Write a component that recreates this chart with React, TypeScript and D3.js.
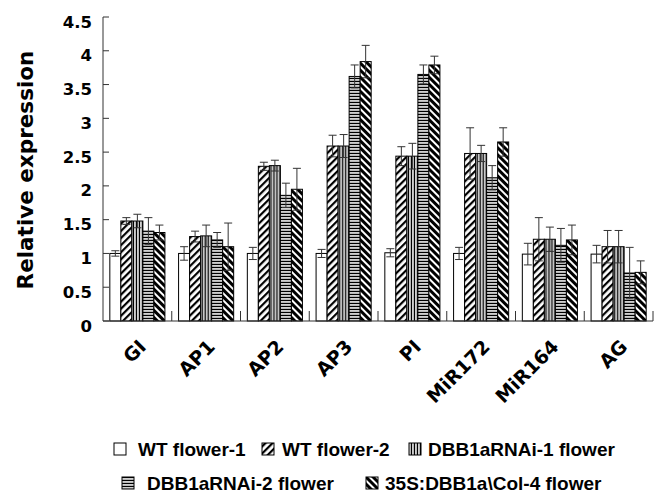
import React from "react";
import * as d3 from "d3";

// genes on the x axis
const genes = ["GI", "AP1", "AP2", "AP3", "PI", "MiR172", "MiR164", "AG"];
const seriesNames = [
  "WT flower-1",
  "WT flower-2",
  "DBB1aRNAi-1 flower",
  "DBB1aRNAi-2 flower",
  "35S:DBB1a\\Col-4 flower",
];
// mean values per series (one value per gene)
const wt1 = [1.0, 1.0, 1.0, 1.0, 1.01, 1.0, 0.99, 0.99];
const wt2 = [1.48, 1.25, 2.29, 2.59, 2.44, 2.48, 1.21, 1.1];
const rnai1 = [1.48, 1.26, 2.3, 2.59, 2.44, 2.48, 1.21, 1.1];
const rnai2 = [1.33, 1.2, 1.86, 3.62, 3.65, 2.12, 1.12, 0.71];
const oe35s = [1.31, 1.1, 1.95, 3.84, 3.79, 2.65, 1.2, 0.72];
// error bar sizes
const wt1Err = [0.04, 0.1, 0.09, 0.06, 0.06, 0.09, 0.16, 0.13];
const wt2Err = [0.05, 0.08, 0.06, 0.16, 0.14, 0.38, 0.32, 0.24];
const rnai1Err = [0.1, 0.16, 0.08, 0.17, 0.19, 0.12, 0.18, 0.24];
const rnai2Err = [0.2, 0.11, 0.18, 0.17, 0.14, 0.18, 0.25, 0.38];
const oe35sErr = [0.11, 0.35, 0.31, 0.24, 0.13, 0.21, 0.22, 0.17];
const yTicks = [0, 0.5, 1, 1.5, 2, 2.5, 3, 3.5, 4, 4.5];

const values = [wt1, wt2, rnai1, rnai2, oe35s];
const errors = [wt1Err, wt2Err, rnai1Err, rnai2Err, oe35sErr];
const fills = ["#fff", "url(#pFwd)", "url(#pVert)", "url(#pHoriz)", "url(#pBack)"];

const HEAVY = "'DejaVu Sans', sans-serif";
const ARIAL = "Arial, 'Liberation Sans', sans-serif";

export default function App() {
  const left = 103, right = 653, top = 17, bottom = 321;

  const x0 = d3.scaleBand().domain(genes).range([left, right]).paddingInner(0).paddingOuter(0);
  const x1 = d3.scaleBand<number>()
    .domain(d3.range(seriesNames.length))
    .range([0, x0.bandwidth()])
    .paddingInner(0)
    .paddingOuter(0.62);
  const y = d3.scaleLinear().domain([0, 4.5]).range([bottom, top]);

  // legend placement: [row, swatch x, text x]
  const legendPos = [
    [0, 114, 138], [0, 262, 282], [0, 409, 428],
    [1, 122, 147], [1, 366, 385],
  ];
  const rowY = [456, 490];

  return (
    <svg width={656} height={494} style={{ display: "block", position: "absolute", left: 0, top: 0, background: "#fff" }}>
      <defs>
        <pattern id="pFwd" patternUnits="userSpaceOnUse" width={5} height={5} patternTransform="rotate(45)">
          <rect width={5} height={5} fill="#fff" />
          <rect width={2.2} height={5} fill="#000" />
        </pattern>
        <pattern id="pBack" patternUnits="userSpaceOnUse" width={5} height={5} patternTransform="rotate(-45)">
          <rect width={5} height={5} fill="#fff" />
          <rect width={3} height={5} fill="#000" />
        </pattern>
        <pattern id="pVert" patternUnits="userSpaceOnUse" width={3} height={3}>
          <rect width={3} height={3} fill="#fff" />
          <rect width={1} height={3} fill="#000" />
          <rect x={1.6} width={1} height={3} fill="#888" />
        </pattern>
        <pattern id="pHoriz" patternUnits="userSpaceOnUse" width={3} height={3}>
          <rect width={3} height={3} fill="#fff" />
          <rect width={3} height={1} fill="#000" />
          <rect y={1.6} width={3} height={1} fill="#888" />
        </pattern>
      </defs>

      {/* bars */}
      {genes.map((g, gi) => (
        <g key={g} transform={`translate(${x0(g)},0)`}>
          {values.map((vals, si) => (
            <rect
              key={si}
              x={x1(si)}
              y={y(vals[gi])}
              width={x1.bandwidth()}
              height={y(0) - y(vals[gi])}
              fill={fills[si]}
              stroke="#000"
              strokeWidth={1}
            />
          ))}
          {values.map((vals, si) => {
            const cx = (x1(si) as number) + x1.bandwidth() / 2;
            const hi = y(vals[gi] + errors[si][gi]);
            const lo = y(vals[gi] - errors[si][gi]);
            return (
              <g key={"e" + si} stroke="#333" strokeWidth={1}>
                <line x1={cx} x2={cx} y1={hi} y2={lo} />
                <line x1={cx - 4} x2={cx + 4} y1={hi} y2={hi} />
                <line x1={cx - 4} x2={cx + 4} y1={lo} y2={lo} />
              </g>
            );
          })}
        </g>
      ))}

      {/* y axis */}
      <line x1={left} x2={left} y1={top} y2={bottom} stroke="#333" />
      {yTicks.map((t) => (
        <g key={t}>
          <line x1={left} x2={left + 6} y1={y(t)} y2={y(t)} stroke="#333" />
          <text x={92} y={y(t) + 10.5} textAnchor="end" fontFamily={HEAVY} fontWeight="bold" fontSize={16.5}>
            {t}
          </text>
        </g>
      ))}
      <g transform={`translate(33,170) rotate(-90)`}>
        <text textAnchor="middle" fontFamily={HEAVY} fontWeight="bold" fontSize={21.5}>
          Relative expression
        </text>
      </g>

      {/* x axis */}
      <line x1={left} x2={right} y1={bottom} y2={bottom} stroke="#333" />
      {genes.map((g) => (
        <line key={"t" + g} x1={(x0(g) as number) + x0.bandwidth()} x2={(x0(g) as number) + x0.bandwidth()} y1={bottom} y2={bottom - 10} stroke="#333" />
      ))}
      {genes.map((g) => {
        const cx = (x0(g) as number) + x0.bandwidth() / 2;
        return (
          <g key={"l" + g} transform={`translate(${cx + 10},${bottom + 27}) rotate(-45)`}>
            <text textAnchor="end" fontFamily={HEAVY} fontWeight="bold" fontSize={19}>
              {g}
            </text>
          </g>
        );
      })}

      {/* legend */}
      {seriesNames.map((name, si) => {
        const [row, sx, tx] = legendPos[si];
        const base = rowY[row];
        return (
          <g key={name}>
            <rect x={sx} y={base - 13} width={12} height={12} fill={fills[si]} stroke="#000" strokeWidth={1} />
            <text x={tx} y={base} fontFamily={ARIAL} fontWeight="bold" fontSize={19}>
              {name}
            </text>
          </g>
        );
      })}
    </svg>
  );
}
